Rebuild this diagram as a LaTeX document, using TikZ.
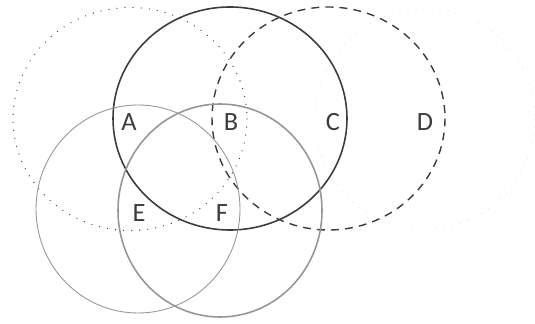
\documentclass[tikz,border=0pt]{standalone}
\usepackage{fontspec}
\setmainfont{Carlito}
\usepackage{tikz}
\usetikzlibrary{positioning}
\definecolor{inkgray}{RGB}{60, 60, 60}
\definecolor{lightgray}{RGB}{150, 150, 150}
\definecolor{fadegray}{RGB}{220, 220, 220}

\begin{document}
\begin{tikzpicture}[x=0.2mm, y=-0.2mm,
    lbl/.style={text=inkgray, font=\fontsize{15}{17}\selectfont, inner sep=0pt},
    dotset/.style={draw=inkgray, line width=0.75pt, dash pattern=on 0pt off 4.6pt, line cap=round},
    solidset/.style={draw=inkgray, line width=0.9pt},
    dashset/.style={draw=inkgray, line width=0.8pt, dash pattern=on 4.5pt off 3.5pt},
    faintset/.style={draw=fadegray, line width=0.6pt, dash pattern=on 0pt off 4.6pt, line cap=round},
    thinset/.style={draw=lightgray, line width=0.5pt},
    doubleset/.style={draw=lightgray, line width=0.9pt}]
  \useasboundingbox (0,0) rectangle (535,324);
  % circle centres
  \coordinate (c1) at (130,119);
  \coordinate (c2) at (230,118.5);
  \coordinate (c3) at (328.5,118.5);
  \coordinate (c4) at (425,119);
  \coordinate (c5) at (138,209);
  \coordinate (c6) at (220,210.5);

  \draw[faintset] (c4) circle[x radius=110, y radius=110];
  \draw[dotset] (c1) circle[x radius=117, y radius=111.5];
  \draw[dashset] (c3) circle[x radius=116.5, y radius=111.5];
  \draw[solidset] (c2) circle[x radius=117, y radius=111.5];
  \draw[thinset] (c5) circle[x radius=102, y radius=104];
  \draw[doubleset] (c6) circle[x radius=102, y radius=106.5];

  \node[lbl] (la) at (129,122) {A};
  \node[lbl] (lb) at (231,122) {B};
  \node[lbl] (lc) at (333,122) {C};
  \node[lbl] (ld) at (425,122) {D};
  \node[lbl] (le) at (139,213) {E};
  \node[lbl] (lf) at (222,213) {F};
\end{tikzpicture}
\end{document}
